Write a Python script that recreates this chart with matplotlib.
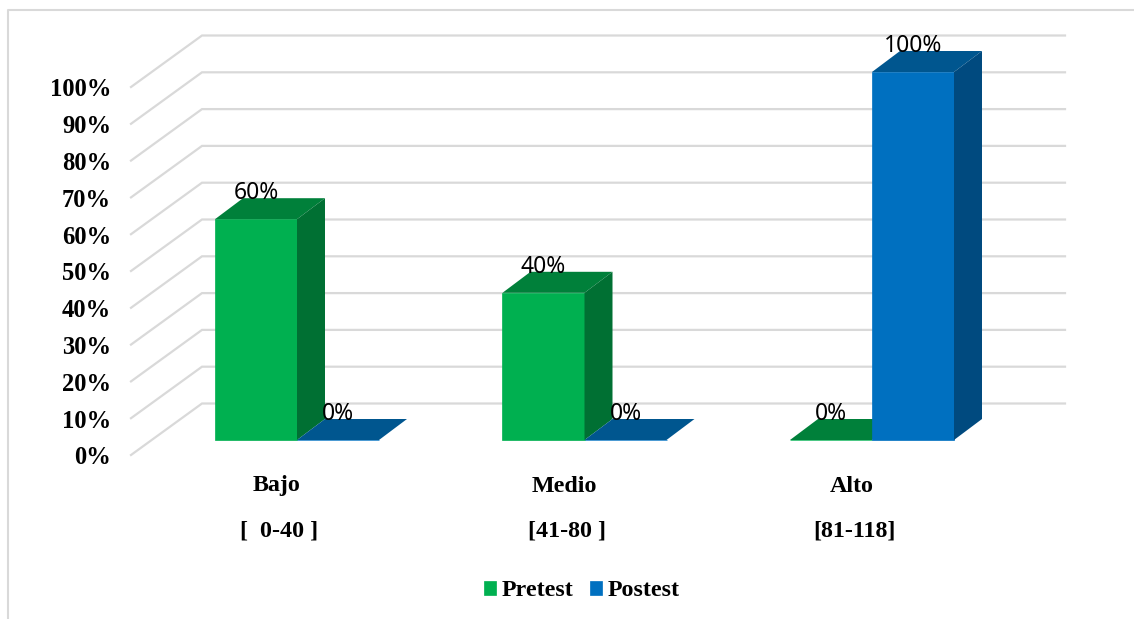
#!/usr/bin/env python3
"""
3D-looking grouped bars, Pretest / Postest by level
"""

import matplotlib
matplotlib.use('Agg')
import matplotlib.pyplot as plt
from matplotlib.lines import Line2D

# Data
niveles = ['Bajo', 'Medio', 'Alto']
rangos = ['[  0-40 ]', '[41-80 ]', '[81-118]']
pretest = [60, 40, 0]
postest = [0, 0, 100]
y_ticks = [0, 10, 20, 30, 40, 50, 60, 70, 80, 90, 100]

W, H = 1134, 619
PX_X = 287.5   # pixels per category
PX_Y = 3.68    # pixels per percent
X0, Y0 = 297, 440  # pixel position of first group centre / zero line

fig = plt.figure(figsize=(W / 100, H / 100), dpi=100)
ax = fig.add_axes([0, 0, 1, 1])
ax.set_xlim(-X0 / PX_X, (W - X0) / PX_X)
ax.set_ylim(-(H - Y0) / PX_Y, Y0 / PX_Y)
ax.axis('off')


def px(dx):
    return dx / PX_X


def py(dy):
    return dy / PX_Y


bar_w = px(82)
depth_x, depth_y = px(28), py(21)
GRID = '#D9D9D9'
serif = dict(family='Liberation Serif', fontweight='bold', color='black')

# back wall and left wall gridlines
wall_front_x = px(131 - X0)
wall_back_x = px(202 - X0)
wall_end_x = px(1065 - X0)
for v in y_ticks:
    yb = v + py(36.5)
    yf = v - py(15)
    ax.plot([wall_front_x, wall_back_x, wall_end_x], [yf, yb, yb],
            color=GRID, lw=1.6, zorder=1, solid_joinstyle='miter')

# y labels
for v in y_ticks:
    ax.text(px(111 - X0), v - py(18), f'{v}%', ha='right', va='center',
            fontsize=17.7, **serif)


def draw_bar(x_left, val, front, side, top):
    x_r = x_left + bar_w
    h = ax.bar(x_left, val, width=bar_w, align='edge', color=front, zorder=3,
               edgecolor=front, linewidth=0.5)
    ax.fill([x_left, x_r, x_r + depth_x, x_left + depth_x],
            [val, val, val + depth_y, val + depth_y], color=top, lw=0, zorder=3)
    if val > 0:
        ax.fill([x_r, x_r + depth_x, x_r + depth_x, x_r],
                [0, depth_y, val + depth_y, val], color=side, lw=0, zorder=3)
    ax.text(x_left + bar_w / 2, val + py(26), f'{val}%', ha='center', va='center',
            fontsize=16.5, family='Noto Sans', fontweight='bold', color='black', zorder=5)
    return h


for i in range(len(niveles)):
    h1 = draw_bar(i - bar_w, pretest[i], '#00B050', '#007033', '#00803A')
    h2 = draw_bar(i, postest[i], '#0070C0', '#004A7F', '#00568F')
    # category labels
    ax.text(i + px(-20.5), py(-46), niveles[i], ha='center', va='center',
            fontsize=17.3, **serif)
    ax.text(i + px(-18), py(-91), rangos[i], ha='center', va='center',
            fontsize=17.3, **serif)

ax.legend([h1, h2], ['Pretest', 'Postest'], ncol=2, frameon=False,
          loc='center', bbox_to_anchor=(582 / W, 1 - 591 / H),
          handlelength=0.5, handleheight=0.5, handletextpad=0.22,
          columnspacing=0.7, borderpad=0,
          prop=dict(family='Liberation Serif', weight='bold', size=17.3))

# outer frame, only top and left show
fig.add_artist(Line2D([8 / W, 8 / W, 1], [0, 1 - 10 / H, 1 - 10 / H], color=GRID, lw=1.5))

plt.savefig('out.png', dpi=100)
